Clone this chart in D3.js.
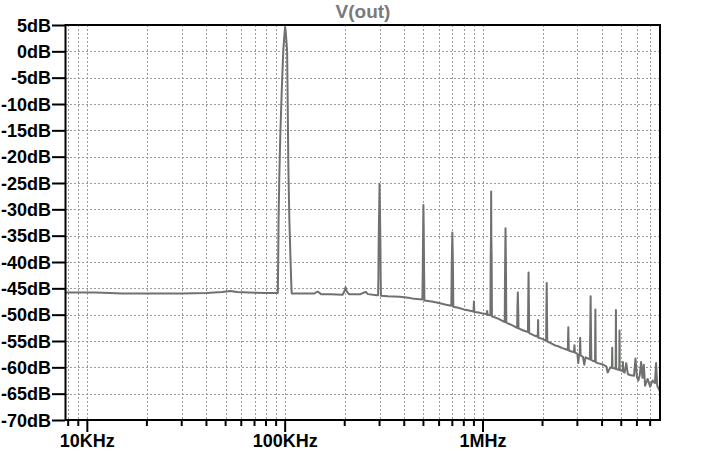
<!DOCTYPE html>
<html>
<head>
<meta charset="utf-8">
<script src="https://cdn.jsdelivr.net/npm/d3@7"></script>
<style>
  html, body { margin: 0; padding: 0; background: #ffffff; }
  svg { display: block; }
  text { font-family: "Liberation Sans", Arial, sans-serif; font-weight: bold; }
</style>
</head>
<body>
<div id="chart"></div>
<script>
// ---------------- DATA ----------------
const title = "V(out)";

// frequency points of the V(out) trace, in Hz
const freqHz = [
  7800, 9000, 11000, 13000, 15000, 20000, 30000, 40000, 48000, 53000, 57000, 65000, 80000, 91800,
  92200, 92600, 93400, 94500, 96000, 97800, 99300, 100000, 100800, 102300, 103000, 103800, 105000, 106500, 107600, 108000,
  125000, 140000, 146000, 152000, 170000, 195000, 199000, 202000, 205000, 210000, 240000, 250000, 256000, 262000, 290000,
  295000, 296000, 297000, 299000, 300000, 301000, 303000, 304000, 305000,
  330000, 380000, 420000, 450000,
  494000, 496000, 498500, 500000, 501500, 504000, 506000,
  550000, 600000, 650000,
  692000, 695000, 698000, 700000, 702000, 705000, 708000,
  750000, 800000, 850000,
  896000, 900000, 904000,
  950000, 1000000, 1045000, 1050000, 1055000,
  1090000, 1094000, 1098000, 1100000, 1102000, 1106000, 1110000,
  1200000,
  1288000, 1292000, 1297000, 1300000, 1303000, 1308000, 1312000,
  1400000,
  1488000, 1493000, 1500000, 1507000, 1512000,
  1600000,
  1688000, 1693000, 1700000, 1707000, 1712000,
  1800000,
  1888000, 1894000, 1900000, 1906000,
  2000000,
  2086000, 2092000, 2100000, 2106000, 2114000,
  2200000, 2300000, 2400000, 2500000,
  2685000, 2700000, 2715000,
  2800000,
  2885000, 2900000, 2915000,
  3000000, 3030000, 3060000,
  3085000, 3100000, 3115000,
  3200000, 3250000, 3300000,
  3470000, 3485000, 3500000, 3515000, 3530000,
  3600000,
  3685000, 3700000, 3715000,
  3800000, 4000000, 4200000, 4270000, 4400000,
  4485000, 4500000, 4515000,
  4600000,
  4685000, 4700000, 4715000,
  4800000,
  4885000, 4900000, 4915000,
  5000000,
  5085000, 5100000, 5115000,
  5200000, 5300000, 5400000, 5600000, 5800000, 5900000, 6000000, 6100000, 6200000, 6300000,
  6400000, 6500000, 6600000, 6800000, 7000000, 7200000, 7400000, 7500000, 7600000, 7850000
];

// magnitude of V(out) at those frequencies, in dB
const magDb = [
  -45.8, -45.8, -45.8, -45.9, -46.0, -46.0, -46.0, -45.9, -45.7, -45.5, -45.7, -45.8, -45.9, -45.9,
  -40, -32, -24, -16, -8, 0, 3.5, 4.6, 3.5, 0, -10, -22, -32, -40, -45, -46,
  -46.0, -46.0, -45.6, -46.1, -46.1, -46.2, -45.6, -44.8, -45.6, -46.1, -46.1, -45.8, -45.7, -46.1, -46.3,
  -46.3, -43, -36, -29, -25.2, -29, -36, -43, -46.4,
  -46.5, -46.6, -46.8, -47.0,
  -47.1, -42, -33, -29.2, -33, -42, -47.3,
  -47.5, -47.8, -48.1,
  -48.3, -41, -37, -34.4, -37, -41, -48.5,
  -48.7, -49.0, -49.2,
  -49.4, -47.5, -49.5,
  -49.6, -49.8, -49.9, -49.3, -50.0,
  -50.1, -39, -35, -26.6, -35, -39, -50.3,
  -50.8,
  -51.4, -43, -37, -33.6, -37, -43, -51.5,
  -52.0,
  -52.5, -49, -45.8, -49, -52.6,
  -53.0,
  -53.3, -48, -42, -48, -53.5,
  -53.9,
  -54.2, -53.5, -51, -54.4,
  -54.6,
  -55.0, -49.5, -44, -49.5, -55.1,
  -55.4, -55.8, -56.0, -56.3,
  -56.7, -52.4, -56.8,
  -57.0,
  -57.1, -55.8, -57.2,
  -57.4, -59.2, -57.6,
  -57.6, -54.4, -57.7,
  -58.0, -59.5, -58.1,
  -58.5, -53, -46.5, -53, -58.6,
  -58.8,
  -58.9, -49, -59.0,
  -59.2, -59.4, -59.8, -61.0, -60.0,
  -60.1, -56.3, -60.1,
  -60.2,
  -60.3, -49.1, -60.3,
  -60.4,
  -60.5, -53, -60.5,
  -60.6,
  -60.7, -59, -60.8,
  -61.0, -59.2, -61.3, -61.5, -61.6, -58.3, -61.8, -62.5, -61.5, -59.0,
  -62.0, -59.5, -63.5, -62.2, -63.7, -62.5, -63.0, -59.2, -63.5, -64.6
];

// axes
const xDomain = [7800, 7850000];
const yDomain = [-70, 5];
const yTicks = [5, 0, -5, -10, -15, -20, -25, -30, -35, -40, -45, -50, -55, -60, -65, -70];
const yTickLabels = ["5dB", "0dB", "-5dB", "-10dB", "-15dB", "-20dB", "-25dB", "-30dB", "-35dB",
                     "-40dB", "-45dB", "-50dB", "-55dB", "-60dB", "-65dB", "-70dB"];
const xMajorTicks = [10000, 100000, 1000000];
const xMajorLabels = ["10KHz", "100KHz", "1MHz"];
const xMinorTicks = [8000, 9000,
  20000, 30000, 40000, 50000, 60000, 70000, 80000, 90000,
  200000, 300000, 400000, 500000, 600000, 700000, 800000, 900000,
  2000000, 3000000, 4000000, 5000000, 6000000, 7000000];

// ---------------- LAYOUT ----------------
const W = 715, H = 456;
const M = { left: 66, top: 25, right: 55, bottom: 36 };
const pw = W - M.left - M.right;   // 594
const ph = H - M.top - M.bottom;   // 395

const svg = d3.select("#chart").append("svg").attr("width", W).attr("height", H);

const x = d3.scaleLog().domain(xDomain).range([M.left, M.left + pw]);
const y = d3.scaleLinear().domain(yDomain).range([M.top + ph, M.top]);

const gridColor = "#9a9a9a";

// grid
const grid = svg.append("g");
grid.selectAll("line.h").data(yTicks.filter(d => d !== 5 && d !== -70)).enter().append("line")
  .attr("x1", M.left).attr("x2", M.left + pw)
  .attr("y1", d => Math.round(y(d)) + 0.5).attr("y2", d => Math.round(y(d)) + 0.5)
  .attr("stroke", gridColor).attr("stroke-width", 1).attr("stroke-dasharray", "2,2");
grid.selectAll("line.v").data(xMajorTicks.concat(xMinorTicks)).enter().append("line")
  .attr("x1", d => Math.round(x(d)) + 0.5).attr("x2", d => Math.round(x(d)) + 0.5)
  .attr("y1", M.top).attr("y2", M.top + ph)
  .attr("stroke", gridColor).attr("stroke-width", 1).attr("stroke-dasharray", "2,2");

// trace
svg.append("clipPath").attr("id", "clip").append("rect")
  .attr("x", M.left).attr("y", M.top).attr("width", pw).attr("height", ph);

const pts = freqHz.map((f, i) => [f, magDb[i]]);
const line = d3.line().x(d => x(d[0])).y(d => y(d[1]));
svg.append("path").datum(pts)
  .attr("clip-path", "url(#clip)")
  .attr("d", line)
  .attr("fill", "none")
  .attr("stroke", "#6e716e")
  .attr("stroke-width", 2)
  .attr("stroke-linejoin", "round");

// axes (frame)
svg.append("rect")
  .attr("x", M.left - 0.5).attr("y", M.top)
  .attr("width", pw + 0.5).attr("height", ph)
  .attr("fill", "none").attr("stroke", "#000").attr("stroke-width", 2);

// y ticks and labels
const yAxis = d3.axisLeft(y).tickValues(yTicks).tickSize(13).tickPadding(1)
  .tickFormat((d, i) => yTickLabels[i]);
const gy = svg.append("g").attr("transform", `translate(${M.left - 1},0)`).call(yAxis);
gy.select(".domain").remove();
gy.selectAll(".tick line").attr("stroke", "#000").attr("stroke-width", 2);
gy.selectAll(".tick text").attr("fill", "#000").style("font-size", "18px")
  .style("font-family", "'Liberation Sans', Arial, sans-serif").style("font-weight", "bold")
  .attr("dy", "0.35em");

// x ticks
const gx = svg.append("g").attr("transform", `translate(0,${M.top + ph})`);
gx.selectAll("line.minor").data(xMinorTicks).enter().append("line")
  .attr("x1", d => x(d)).attr("x2", d => x(d))
  .attr("y1", 0).attr("y2", 6)
  .attr("stroke", "#000").attr("stroke-width", 2);
gx.selectAll("line.major").data(xMajorTicks).enter().append("line")
  .attr("x1", d => x(d)).attr("x2", d => x(d))
  .attr("y1", 0).attr("y2", 12)
  .attr("stroke", "#000").attr("stroke-width", 2);
gx.selectAll("text").data(xMajorTicks).enter().append("text")
  .attr("x", d => x(d)).attr("y", 27)
  .attr("text-anchor", "middle")
  .style("font-size", "18px").attr("fill", "#000")
  .text((d, i) => xMajorLabels[i]);

// title
svg.append("text")
  .attr("x", M.left + pw / 2).attr("y", 18)
  .attr("text-anchor", "middle")
  .attr("fill", "#7a7a7a")
  .style("font-size", "19px")
  .text(title);
</script>
</body>
</html>
